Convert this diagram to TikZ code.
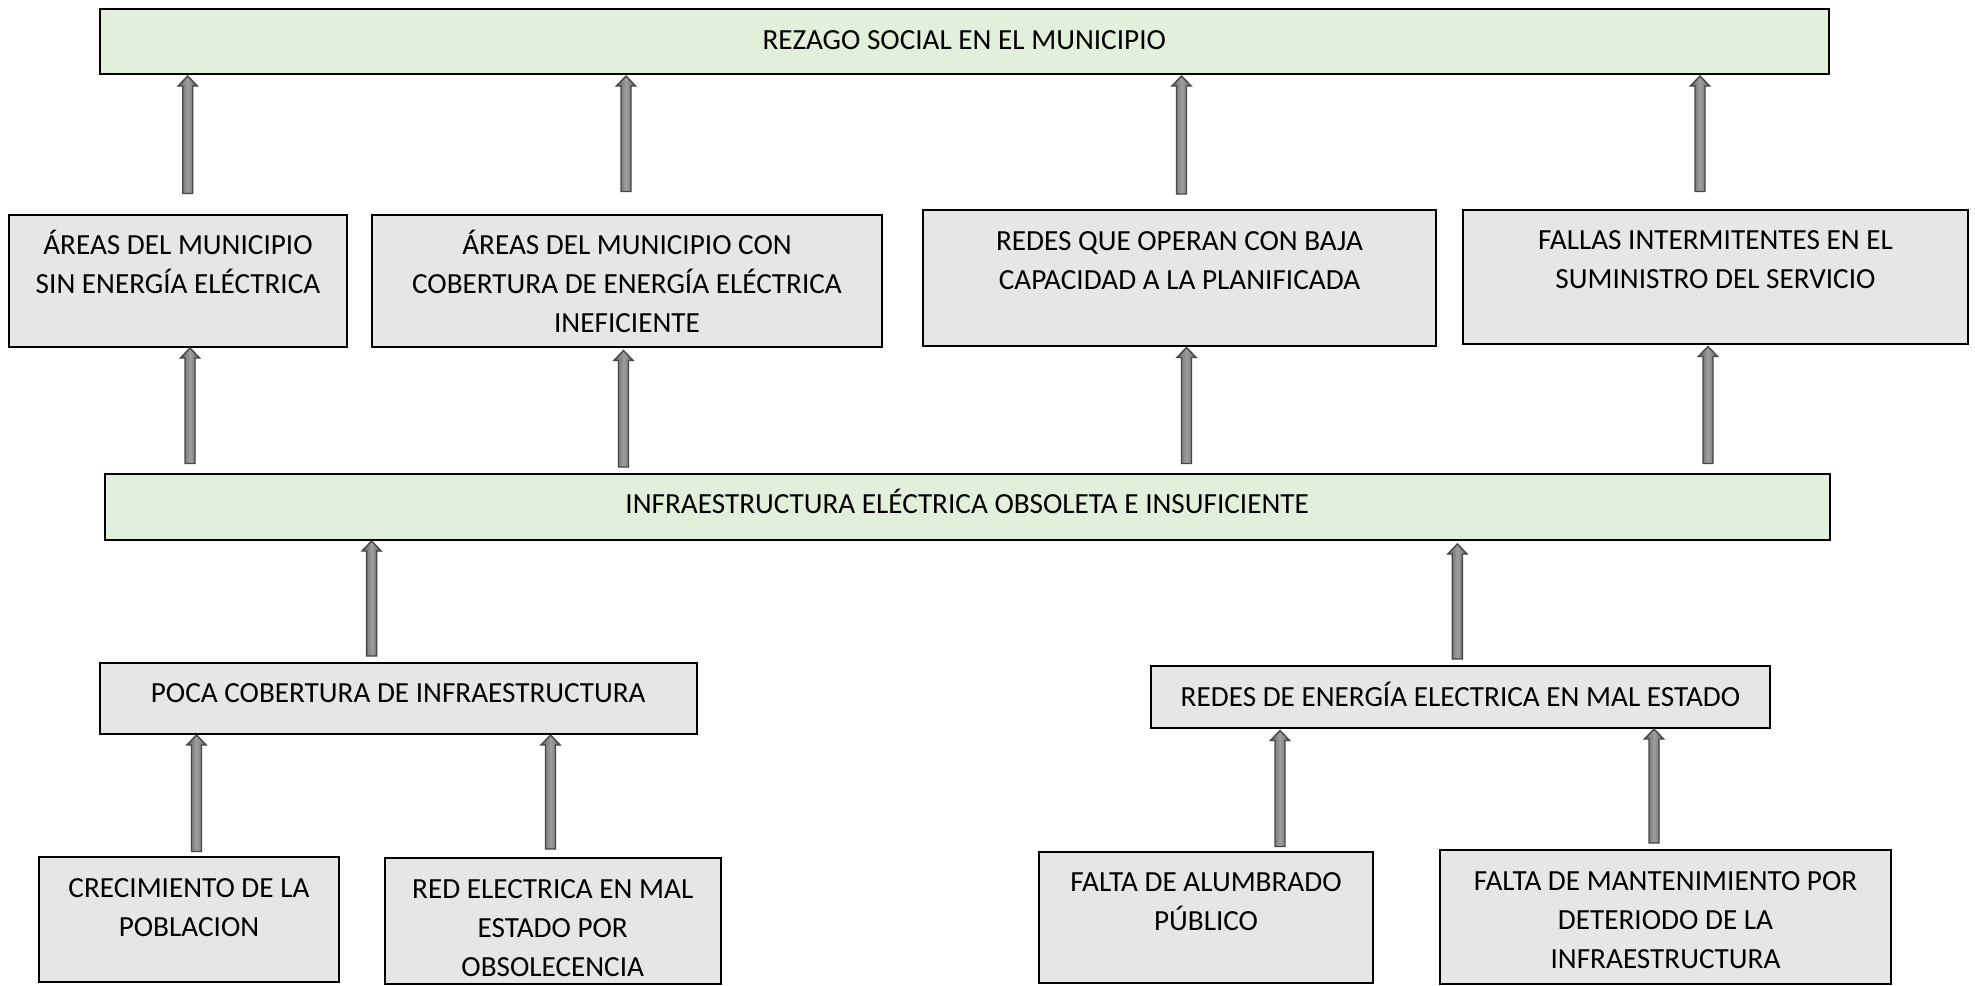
\documentclass[tikz,border=0pt]{standalone}
\usepackage{fontspec}
\setmainfont{Carlito}
\usetikzlibrary{calc}
\definecolor{boxgreen}{HTML}{E2EFDA}
\definecolor{boxgray}{HTML}{E6E6E6}
\tikzset{
  cb/.style={draw=black, line width=1pt, inner sep=0pt, outer sep=0pt, rectangle},
  fatarr/.style={draw=black!72, line width=0.7pt, left color=black!62, right color=black!62, middle color=black!38, line join=miter}
}
\newcommand\cbox[7]{%
  \pgfmathsetlengthmacro\bw{(#5-#3)*0.5pt}%
  \pgfmathsetlengthmacro\bh{(#6-#4)*0.5pt}%
  \node[cb, fill=#2, minimum width=\bw, minimum height=\bh] (#1) at ({(#3+#5)/2},{(#4+#6)/2})
    {\parbox[c][\bh][t]{\bw}{\fontsize{14.6pt}{19.5pt}\selectfont\centering\rule{0pt}{20.2pt}#7\par}};}
\newcommand\fatarrow[5]{%
  \path[fatarr] let \p1=(#1,0 |- #2), \p2=(#1,0 |- #3) in
    (\x1-2.5pt,\y1+#4*0.5pt) -- (\x1-2.5pt,\y2-#5*0.5pt-5pt) -- (\x1-4.8pt,\y2-#5*0.5pt-5pt)
    -- (\x1,\y2-#5*0.5pt) -- (\x1+4.8pt,\y2-#5*0.5pt-5pt) -- (\x1+2.5pt,\y2-#5*0.5pt-5pt)
    -- (\x1+2.5pt,\y1+#4*0.5pt) -- cycle;}
\begin{document}
\begin{tikzpicture}[x=0.5pt,y=-0.5pt]
\useasboundingbox[fill=white] (0,0) rectangle (1975,985);
% top effect
\cbox{top}{boxgreen}{99.5}{9}{1829}{74}{REZAGO SOCIAL EN EL MUNICIPIO}
% effects
\cbox{a}{boxgray}{9}{214.5}{347}{346.5}{ÁREAS DEL MUNICIPIO\\SIN ENERGÍA ELÉCTRICA}
\cbox{b}{boxgray}{372}{214.5}{882}{346.5}{ÁREAS DEL MUNICIPIO CON\\COBERTURA DE ENERGÍA ELÉCTRICA\\INEFICIENTE}
\cbox{c}{boxgray}{923}{210}{1436}{346}{REDES QUE OPERAN CON BAJA\\CAPACIDAD A LA PLANIFICADA}
\cbox{d}{boxgray}{1463}{209.5}{1968}{344}{FALLAS INTERMITENTES EN EL\\SUMINISTRO DEL SERVICIO}
% central problem
\cbox{mid}{boxgreen}{104.5}{473.5}{1830}{540}{INFRAESTRUCTURA ELÉCTRICA OBSOLETA E INSUFICIENTE}
% causes
\cbox{e}{boxgray}{99.5}{662.5}{697}{734}{POCA COBERTURA DE INFRAESTRUCTURA}
\cbox{f}{boxgray}{1151}{666}{1770}{728}{REDES DE ENERGÍA ELECTRICA EN MAL ESTADO}
% sub-causes
\cbox{g}{boxgray}{39}{857}{339}{982}{CRECIMIENTO DE LA\\POBLACION}
\cbox{h}{boxgray}{385}{858}{720.5}{984}{RED ELECTRICA EN MAL\\ESTADO POR\\OBSOLECENCIA}
\cbox{i}{boxgray}{1039}{851.5}{1373}{982.5}{FALTA DE ALUMBRADO\\PÚBLICO}
\cbox{j}{boxgray}{1440}{850}{1891}{984}{FALTA DE MANTENIMIENTO POR\\DETERIODO DE LA\\INFRAESTRUCTURA}
% arrows: effects -> top
\fatarrow{187.7}{a.north}{top.south}{21}{2}
\fatarrow{626}{b.north}{top.south}{23}{2}
\fatarrow{1181.5}{c.north}{top.south}{16}{2}
\fatarrow{1700}{d.north}{top.south}{18}{2}
% central -> effects
\fatarrow{190}{mid.north}{a.south}{10}{1.5}
\fatarrow{623.5}{mid.north}{b.south}{6.5}{4}
\fatarrow{1186.5}{mid.north}{c.south}{10}{1.5}
\fatarrow{1708}{mid.north}{d.south}{10}{2.5}
% causes -> central
\fatarrow{371.6}{e.north}{mid.south}{6.5}{1}
\fatarrow{1457.4}{f.north}{mid.south}{7}{4}
% sub-causes -> causes
\fatarrow{196.5}{g.north}{e.south}{5.5}{1}
\fatarrow{550.5}{h.north}{e.south}{9}{1}
\fatarrow{1280}{i.north}{f.south}{5}{2.5}
\fatarrow{1654}{j.north}{f.south}{7}{1}
\end{tikzpicture}
\end{document}
